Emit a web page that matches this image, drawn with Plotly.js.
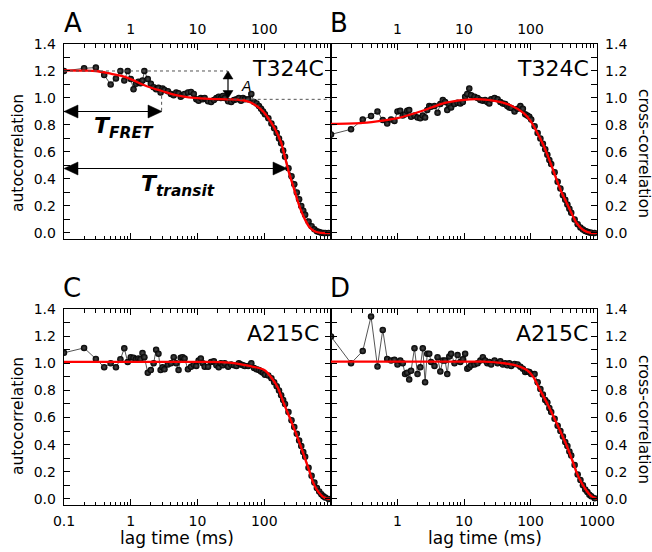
<!DOCTYPE html>
<html><head><meta charset="utf-8">
<script src="https://cdn.plot.ly/plotly-3.0.1.min.js"></script>
<style>html,body{margin:0;padding:0;background:#fff}</style>
</head><body>
<div id="chart" style="width:652px;height:552px"></div>
<script>
// ---------- data ----------
const lagTime = [
  0.1,0.2,0.3,0.4,0.5,0.6,0.7,0.8,0.9,1.0,1.1,1.2,1.3,1.4,1.5,1.6,
  1.8,2.0,2.2,2.4,2.6,2.8,3.0,3.2,
  3.6,4.0,4.4,4.8,5.2,5.6,6.0,6.4,
  7.2,8.0,8.8,9.6,10.4,11.2,12.0,12.8,
  14.4,16.0,17.6,19.2,20.8,22.4,24.0,25.6,
  28.8,32.0,35.2,38.4,41.6,44.8,48.0,51.2,
  57.6,64.0,70.4,76.8,83.2,89.6,96.0,102.4,
  115.2,128.0,140.8,153.6,166.4,179.2,192.0,204.8,
  230.4,256.0,281.6,307.2,332.8,358.4,384.0,409.6,
  460.8,512.0,563.2,614.4,665.6,716.8,768.0,819.2,
  921.6];

const autoT324C = [
  1.20,1.22,1.225,1.17,1.10,1.145,1.20,1.13,1.20,1.14,1.065,1.105,1.12,1.11,1.13,1.20,
  1.14,1.105,1.08,1.065,1.075,1.04,1.07,1.06,
  1.05,1.03,1.02,1.04,1.035,1.01,1.02,1.03,
  1.04,1.045,1.03,0.99,0.98,1.0,0.99,1.0,
  0.975,0.97,0.985,1.0,1.01,1.0,1.015,1.0,
  0.975,0.97,0.985,0.99,1.0,0.98,1.0,0.99,
  0.99,1.03,0.97,0.96,0.94,0.92,0.90,0.88,
  0.85,0.81,0.775,0.74,0.70,0.665,0.61,0.565,
  0.48,0.42,0.36,0.30,0.25,0.20,0.165,0.135,
  0.085,0.05,0.027,0.013,0.006,0.002,0.0,0.0,
  0.0];

const crossT324C = [
  0.73,0.768,0.84,0.867,0.90,0.837,0.81,0.84,0.83,0.90,0.905,0.87,0.88,0.905,0.91,0.86,
  0.87,0.855,0.85,0.87,0.855,0.91,0.94,0.935,
  0.94,0.89,0.955,0.985,0.97,0.91,0.95,0.93,
  0.955,0.965,0.96,0.97,1.01,1.03,1.07,1.02,
  1.01,1.0,0.985,0.98,0.985,0.97,0.96,0.99,
  1.0,0.99,0.97,0.96,0.955,0.94,0.93,0.925,
  0.90,0.92,0.94,0.92,0.88,0.87,0.86,0.84,
  0.79,0.74,0.70,0.66,0.62,0.58,0.54,0.51,
  0.45,0.38,0.33,0.28,0.245,0.21,0.18,0.15,
  0.10,0.065,0.04,0.025,0.015,0.008,0.004,0.002,
  0.0];

const autoA215C = [
  1.077,1.113,1.032,0.971,1.0,0.97,1.03,1.11,1.01,1.045,1.04,1.03,1.035,1.03,1.075,1.045,
  0.93,0.95,1.0,1.10,1.07,0.95,0.97,0.955,
  0.99,1.0,1.045,1.0,0.95,1.04,1.045,1.035,
  0.955,0.975,0.99,0.98,1.02,1.035,1.0,0.975,
  0.975,1.01,1.015,0.985,0.97,1.0,0.985,1.0,
  0.975,0.99,0.985,0.98,1.0,0.99,0.985,0.98,
  0.98,1.0,0.965,0.955,0.95,0.94,0.93,0.915,
  0.91,0.89,0.86,0.83,0.80,0.765,0.73,0.70,
  0.64,0.58,0.53,0.48,0.43,0.39,0.345,0.31,
  0.23,0.17,0.12,0.08,0.055,0.035,0.02,0.01,
  0.0];

const crossA215C = [
  1.197,1.0,1.09,1.344,0.976,1.246,1.032,1.02,1.025,0.99,1.02,1.0,0.92,0.93,0.88,0.945,
  1.11,0.92,0.97,1.11,0.86,1.07,1.07,1.01,
  0.98,1.045,0.94,1.02,1.02,0.92,1.05,1.07,
  1.0,1.06,1.01,1.03,1.07,0.96,0.97,0.985,
  0.99,1.0,1.02,1.045,1.02,1.0,1.01,0.99,
  1.02,1.0,1.015,0.99,1.0,0.985,1.0,0.98,
  0.995,0.99,0.975,0.96,0.935,0.94,0.935,0.92,
  0.92,0.86,0.81,0.77,0.73,0.71,0.67,0.64,
  0.59,0.54,0.50,0.46,0.42,0.39,0.35,0.32,
  0.25,0.18,0.14,0.10,0.07,0.05,0.03,0.02,
  0.005];

// fitted curves
const fitT324CautoT = [0.1,0.2,0.3,0.5,0.7,1,1.5,2.2,3,4,6,9,15,27,45,60,72,85,100,115,130,145,162,180,193,217,240,270,306,350,412,480,578,700,1000];
const fitT324CautoY = [1.205,1.203,1.2,1.18,1.165,1.14,1.10,1.07,1.05,1.03,1.012,1.0,0.993,0.99,0.985,0.97,0.95,0.925,0.89,0.85,0.81,0.77,0.72,0.665,0.61,0.51,0.43,0.35,0.26,0.175,0.095,0.04,0.01,0.0,0.0];
const fitT324CcrossT = [0.1,0.3,0.6,1,2.2,4.9,8,12.3,18,27.5,49,79,100,124,150,176,210,249,300,352,420,498,630,800,1000];
const fitT324CcrossY = [0.807,0.815,0.832,0.85,0.90,0.96,0.98,0.99,0.99,0.98,0.948,0.887,0.83,0.75,0.67,0.59,0.49,0.39,0.29,0.22,0.14,0.07,0.02,0.0,0.0];
const fitA215CautoT = [0.1,1,10,30,60,100,130,160,194,250,300,340,400,470,540,650,810,1000];
const fitA215CautoY = [1.01,1.01,1.01,1.005,0.98,0.95,0.89,0.82,0.71,0.58,0.48,0.41,0.31,0.21,0.12,0.05,0.007,0.0];
const fitA215CcrossT = [0.1,1,10,20,40,60,88,110,140,180,221,280,352,420,498,600,706,820,1000];
const fitA215CcrossY = [1.012,1.012,1.012,1.012,1.0,0.985,0.95,0.9,0.80,0.70,0.61,0.50,0.39,0.29,0.19,0.11,0.056,0.02,0.0];

const panelLetters = ['A','B','C','D'];
const sampleLabels = ['T324C','T324C','A215C','A215C'];
const topTicks = [1,10,100];
const bottomTicksC = [0.1,1,10,100];
const bottomTicksD = [1,10,100,1000];
const minorTicks = [0.2,0.3,0.4,0.5,0.6,0.7,0.8,0.9,2,3,4,5,6,7,8,9,20,30,40,50,60,70,80,90,200,300,400,500,600,700,800,900];

// ---------- layout helpers ----------
const W = 652, H = 552;
const px = x => x / W;
const py = y => 1 - y / H;
const FONT = 'DejaVu Sans, Liberation Sans, Arial, sans-serif';

const xColA = [px(64), px(331)], xColB = [px(331), px(597)];
const yRowTop = [py(239), py(44)], yRowBot = [py(505), py(309)];

function xax(domain, anchor, side, vals) {
  return {
    type: 'log', range: [-1, 3], domain, anchor, side,
    tickmode: 'array', tickvals: vals, ticktext: vals.map(String),
    ticks: 'inside', ticklen: 6, tickwidth: 1, tickcolor: '#000',
    showline: true, linecolor: '#000', linewidth: 1.3, mirror: 'ticks',
    showgrid: false, zeroline: false, ticklabelstandoff: 3,
    tickfont: {family: FONT, size: 14, color: '#000'},
    minor: {tickmode: 'array', tickvals: minorTicks, ticks: 'inside', ticklen: 3.5, tickcolor: '#000', showgrid: false}
  };
}
function yax(domain, anchor, side) {
  return {
    range: [-0.045, 1.4], domain, anchor, side,
    tickmode: 'linear', tick0: 0, dtick: 0.2, tickformat: '.1f',
    ticks: 'inside', ticklen: 6, tickwidth: 1, tickcolor: '#000',
    showline: true, linecolor: '#000', linewidth: 1.3, mirror: 'ticks',
    showgrid: false, zeroline: false, ticklabelstandoff: 4,
    tickfont: {family: FONT, size: 14, color: '#000'},
    minor: {dtick: 0.1, tick0: 0, ticks: 'inside', ticklen: 6, tickcolor: '#000', showgrid: false}
  };
}

const series = [
  [autoT324C, fitT324CautoT, fitT324CautoY, 'x', 'y'],
  [crossT324C, fitT324CcrossT, fitT324CcrossY, 'x2', 'y2'],
  [autoA215C, fitA215CautoT, fitA215CautoY, 'x3', 'y3'],
  [crossA215C, fitA215CcrossT, fitA215CcrossY, 'x4', 'y4']
];
const traces = [];
series.forEach(([vals, ft, fy, xa, ya]) => {
  traces.push({
    x: lagTime, y: vals, xaxis: xa, yaxis: ya, type: 'scatter', mode: 'lines+markers',
    line: {color: '#2a2a2a', width: 0.8},
    marker: {color: '#000', size: 6.5, gradient: {type: 'radial', color: '#4a4a4a'}, line: {width: 0}},
    showlegend: false, hoverinfo: 'skip'
  });
});
series.forEach(([vals, ft, fy, xa, ya]) => {
  traces.push({
    x: ft, y: fy, xaxis: xa, yaxis: ya, type: 'scatter', mode: 'lines',
    line: {color: '#ff0000', width: 2.3, shape: 'spline', smoothing: 0.8},
    showlegend: false, hoverinfo: 'skip'
  });
});

function txt(text, x, y, size, opts) {
  return Object.assign({
    text, xref: 'paper', yref: 'paper', x: px(x), y: py(y), showarrow: false,
    xanchor: 'center', yanchor: 'middle', borderpad: 0,
    font: {family: FONT, size, color: '#000'}
  }, opts || {});
}

// double-headed arrow drawn as shapes (pixel positions -> paper)
function arrowShapes(x0, y0, x1, y1, len, hw) {
  const dx = x1 - x0, dy = y1 - y0, L = Math.hypot(dx, dy);
  const ux = dx / L, uy = dy / L, nx = -uy, ny = ux;
  const head = (tx, ty, sx) => {
    const bx = tx - sx * ux * len, by = ty - sx * uy * len;
    return {
      type: 'path', xref: 'paper', yref: 'paper',
      path: `M ${px(tx)},${py(ty)} L ${px(bx + nx * hw)},${py(by + ny * hw)} L ${px(bx - nx * hw)},${py(by - ny * hw)} Z`,
      fillcolor: '#000', line: {color: '#000', width: 0.5}
    };
  };
  return [
    {type: 'line', xref: 'paper', yref: 'paper', x0: px(x0 + ux * len * 0.5), y0: py(y0 + uy * len * 0.5),
     x1: px(x1 - ux * len * 0.5), y1: py(y1 - uy * len * 0.5), line: {color: '#000', width: 1.2}},
    head(x1, y1, 1), head(x0, y0, -1)
  ];
}

const annotations = [
  txt(panelLetters[0], 63, 23, 26, {xanchor: 'left'}),
  txt(panelLetters[1], 329, 23, 26, {xanchor: 'left'}),
  txt(panelLetters[2], 62, 288, 26, {xanchor: 'left'}),
  txt(panelLetters[3], 329, 288, 26, {xanchor: 'left'}),
  txt(sampleLabels[0], 325, 68, 22, {xanchor: 'right'}),
  txt(sampleLabels[1], 590, 68, 22, {xanchor: 'right'}),
  txt(sampleLabels[2], 320, 333, 22, {xanchor: 'right'}),
  txt(sampleLabels[3], 589, 333, 22, {xanchor: 'right'}),
  txt('autocorrelation', 18, 153, 15.5, {textangle: -90}),
  txt('autocorrelation', 18, 416, 15.5, {textangle: -90}),
  txt('cross-correlation', 644, 153, 15.5, {textangle: 90}),
  txt('cross-correlation', 644, 419, 15.5, {textangle: 90}),
  txt('lag time (ms)', 177, 538, 17),
  txt('lag time (ms)', 485, 538, 17),
  txt('<b><i>T</i></b><sub><b><i>FRET</i></b></sub>', 124, 127, 22),
  txt('<b><i>T</i></b><sub><b><i>transit</i></b></sub>', 178, 185, 22),
  txt('<i>A</i>', 246, 86, 14)
];

const shapes = [
  {type: 'line', xref: 'x', yref: 'y', x0: 0.1, x1: 28.3, y0: 1.2, y1: 1.2, line: {color: '#555', width: 1, dash: 'dot'}},
  {type: 'line', xref: 'x', yref: 'y', x0: 28.3, x1: 1000, y0: 0.99, y1: 0.99, line: {color: '#555', width: 1, dash: 'dot'}},
  {type: 'line', xref: 'x', yref: 'y', x0: 2.9, x1: 2.9, y0: 0.905, y1: 1.04, line: {color: '#555', width: 1, dash: 'dot'}}
].concat(
  arrowShapes(64, 111.5, 162, 111.5, 14, 6.5),
  arrowShapes(64, 168.5, 287, 168.5, 14, 6.5),
  arrowShapes(228, 71, 228, 98.5, 8, 5)
);

const layout = {
  width: W, height: H, margin: {l: 0, r: 0, t: 0, b: 0},
  paper_bgcolor: '#fff', plot_bgcolor: '#fff', showlegend: false,
  font: {family: FONT, color: '#000'},
  xaxis: xax(xColA, 'y', 'top', topTicks),
  yaxis: yax(yRowTop, 'x', 'left'),
  xaxis2: xax(xColB, 'y2', 'top', topTicks),
  yaxis2: yax(yRowTop, 'x2', 'right'),
  xaxis3: xax(xColA, 'y3', 'bottom', bottomTicksC),
  yaxis3: yax(yRowBot, 'x3', 'left'),
  xaxis4: xax(xColB, 'y4', 'bottom', bottomTicksD),
  yaxis4: yax(yRowBot, 'x4', 'right'),
  annotations, shapes
};

Plotly.newPlot('chart', traces, layout, {staticPlot: true, displayModeBar: false});
</script>
</body></html>
